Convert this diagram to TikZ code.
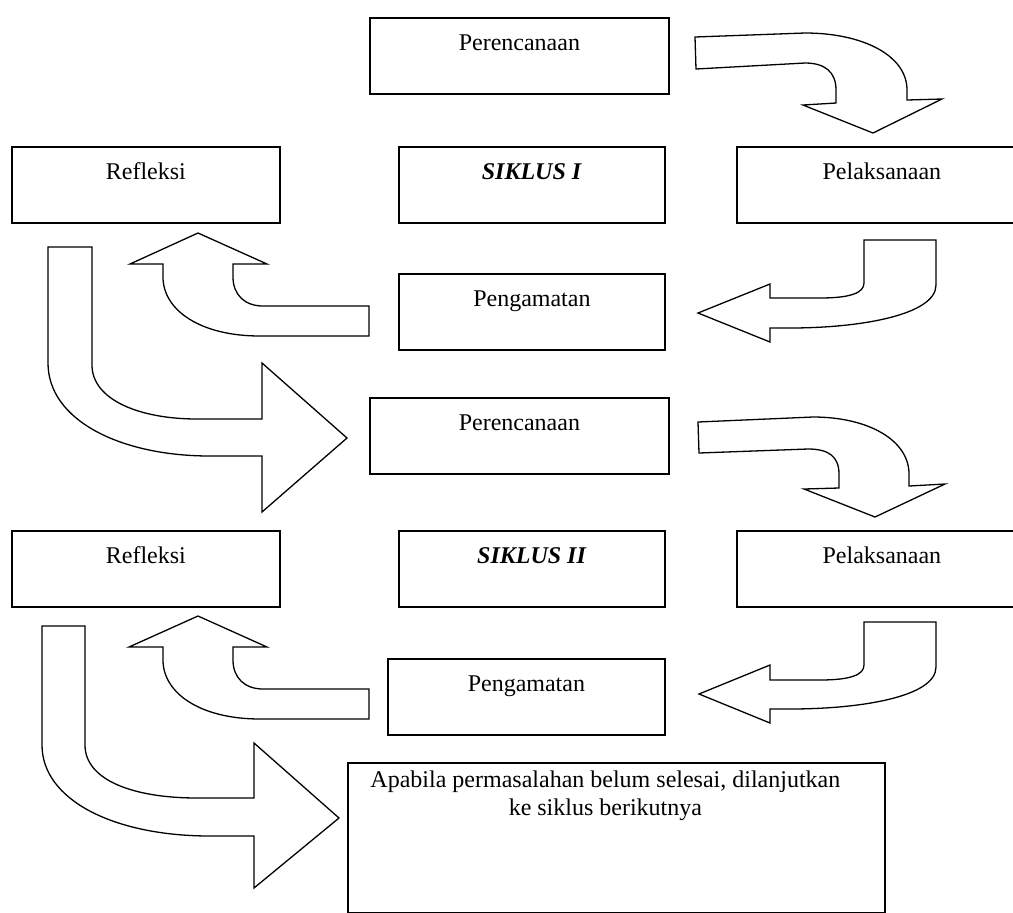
\documentclass[tikz,border=0pt]{standalone}
\usepackage{fontspec}
\setmainfont{Liberation Serif}
\usetikzlibrary{positioning}

\tikzset{
  kotak/.style={draw, line width=0.9pt, anchor=north west, inner sep=0pt,
    text height=16.5pt, text depth=21.5pt, font=\fontsize{12}{14}\selectfont},
  panah/.style={draw, line width=0.65pt, line join=miter}
}

\begin{document}
\begin{tikzpicture}[x=0.5pt, y=-0.5pt]
        \useasboundingbox (0,0) rectangle (1013,912);
        % siklus I
        \node[kotak, minimum width=149.5pt] (perencanaanA) at (369,17)  {Perencanaan};
        \node[kotak, minimum width=134pt]   (refleksiA)    at (11,146)  {Refleksi};
        \node[kotak, minimum width=133pt]   (siklusA)      at (398,146) {\textbf{\textit{SIKLUS I}}};
        \node[kotak, minimum width=145pt]   (pelaksanaanA) at (736,146) {Pelaksanaan};
        \node[kotak, minimum width=133pt]   (pengamatanA)  at (398,273) {Pengamatan};
        % siklus II
        \node[kotak, minimum width=149.5pt] (perencanaanB) at (369,397) {Perencanaan};
        \node[kotak, minimum width=134pt]   (refleksiB)    at (11,530)  {Refleksi};
        \node[kotak, minimum width=133pt]   (siklusB)      at (398,530) {\textbf{\textit{SIKLUS II}}};
        \node[kotak, minimum width=145pt]   (pelaksanaanB) at (736,530) {Pelaksanaan};
        \node[kotak, minimum width=138.5pt] (pengamatanB)  at (387,658) {Pengamatan};
        % lanjut
        \node[kotak, minimum width=268.5pt, text height=0pt, text depth=75pt] (lanjut) at (347,762) {};
        \node[anchor=north, inner sep=0pt, align=center, font=\fontsize{12}{14}\selectfont]
             (lanjutteks) at ([xshift=-5.5pt, yshift=-4.3pt]lanjut.north)
             {Apabila permasalahan belum selesai, dilanjutkan\\ke siklus berikutnya};

        % panah siklus I
        \draw[panah] (695,37) -- (805,33) .. controls (862,33) and (907,55) .. (907,90) -- (907,100)
            -- (942,99) -- (873,133) -- (803,105) -- (836,103) -- (836,90)
            .. controls (836,72) and (825,63) .. (805,63) -- (696,69) -- cycle;
        \draw[panah] (864,240) -- (936,240) -- (936,285) .. controls (936,315) and (860,328) .. (790,328)
            -- (770,328) -- (770,342) -- (698,313) -- (770,284) -- (770,298) -- (820,298)
            .. controls (850,298) and (864,293) .. (864,283) -- cycle;
        \draw[panah] (198,233) -- (267,264) -- (233,264) -- (233,277) .. controls (233,295) and (245,306) .. (263,306)
            -- (369,306) -- (369,336) -- (260,336) .. controls (200,336) and (163,310) .. (163,277)
            -- (163,264) -- (130,264) -- cycle;
        \draw[panah] (48,247) -- (92,247) -- (92,365) .. controls (92,400) and (140,419) .. (197,419)
            -- (262,419) -- (262,363) -- (347,438) -- (262,512) -- (262,456) -- (210,456)
            .. controls (120,456) and (48,420) .. (48,363) -- cycle;

        % panah siklus II
        \draw[panah] (698,422) -- (813,417) .. controls (868,417) and (909,440) .. (909,474) -- (909,486)
            -- (945,484) -- (875,517) -- (804,489) -- (839,488) -- (839,474)
            .. controls (839,456) and (828,449) .. (808,449) -- (699,453) -- cycle;
        \draw[panah] (864,622) -- (936,622) -- (936,667) .. controls (936,697) and (860,709) .. (790,709)
            -- (770,709) -- (770,723) -- (699,694) -- (770,665) -- (770,680) -- (820,680)
            .. controls (850,680) and (864,675) .. (864,665) -- cycle;
        \draw[panah] (198,616) -- (267,647) -- (233,647) -- (233,660) .. controls (233,678) and (245,689) .. (263,689)
            -- (369,689) -- (369,719) -- (260,719) .. controls (200,719) and (163,693) .. (163,660)
            -- (163,647) -- (129,647) -- cycle;
        \draw[panah] (42,626) -- (85,626) -- (85,745) .. controls (85,780) and (133,798) .. (197,798)
            -- (254,798) -- (254,743) -- (339,818) -- (254,888) -- (254,836) -- (210,836)
            .. controls (114,836) and (42,800) .. (42,745) -- cycle;
\end{tikzpicture}
\end{document}
